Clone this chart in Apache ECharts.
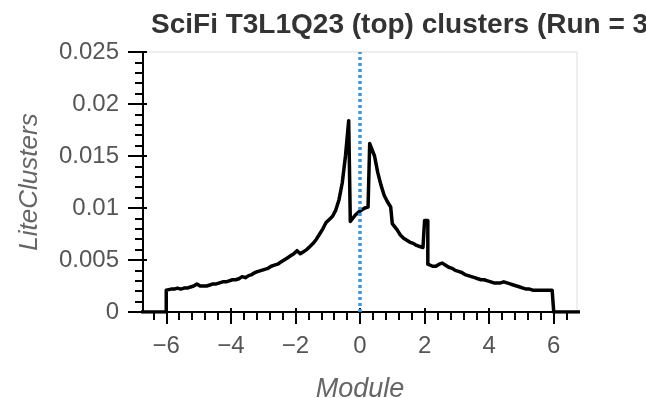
<!DOCTYPE html>
<html>
<head>
<meta charset="utf-8">
<script src="https://cdn.jsdelivr.net/npm/echarts@6/dist/echarts.min.js"></script>
<style>
html,body{margin:0;padding:0;background:#fff;}
#chart{width:646px;height:398px;}
</style>
</head>
<body>
<div id="chart"></div>
<script>
const titleText = 'SciFi T3L1Q23 (top) clusters (Run = 3';
const xName = 'Module';
const yName = 'LiteClusters';
const binStart = -6.0;
const binWidth = 0.1;
// bins from -6.0 to -0.1 (lower edges)
const countsNeg = [
  0.0021, 0.0022, 0.0022, 0.0023, 0.0022, 0.0023, 0.0023, 0.0024, 0.0025, 0.0027,
  0.0025, 0.0025, 0.0025, 0.0026, 0.0027, 0.0027, 0.0028, 0.0029, 0.0029, 0.0030,
  0.0031, 0.0031, 0.0032, 0.0034, 0.0033, 0.0035, 0.0036, 0.0038, 0.0039, 0.0040,
  0.0041, 0.0042, 0.0044, 0.0045, 0.0046, 0.0048, 0.0050, 0.0052, 0.0054, 0.0056,
  0.0059, 0.0056, 0.0058, 0.0060, 0.0063, 0.0066, 0.0070, 0.0075, 0.0080, 0.0086,
  0.0089, 0.0092, 0.0098, 0.0108, 0.0124, 0.0150, 0.0184, 0.0087, 0.0093, 0.0096
];
// bins from 0.0 to 5.9 (lower edges)
const countsPos = [
  0.0098, 0.0100, 0.0101, 0.0162, 0.0150, 0.0134, 0.0122, 0.0112, 0.0106, 0.0101,
  0.0085, 0.0079, 0.0074, 0.0071, 0.0069, 0.0067, 0.0066, 0.0064, 0.0063, 0.0062,
  0.0088, 0.0046, 0.0044, 0.0044, 0.0046, 0.0047, 0.0045, 0.0043, 0.0042, 0.0040,
  0.0039, 0.0038, 0.0036, 0.0035, 0.0034, 0.0033, 0.0032, 0.0031, 0.0031, 0.0030,
  0.0029, 0.0028, 0.0028, 0.0028, 0.0029, 0.0028, 0.0027, 0.0026, 0.0025, 0.0024,
  0.0023, 0.0022, 0.0022, 0.0021, 0.0021, 0.0021, 0.0021, 0.0021, 0.0021, 0.0021
];
// bin edges where the histogram jumps sharply (drawn as vertical steps)
const jumpEdges = [-6.0, -0.3, 0.3, 1.0, 2.0, 2.1, 6.0];
const xMajorTicks = [-6, -4, -2, 0, 2, 4, 6];
const xMinorTicks = [-6.4, -5.6, -5.2, -4.8, -4.4, -3.6, -3.2, -2.8, -2.4, -1.6, -1.2, -0.8, -0.4,
  0.4, 0.8, 1.2, 1.6, 2.4, 2.8, 3.2, 3.6, 4.4, 4.8, 5.2, 5.6, 6.4];
const xMin = -6.72, xMax = 6.72;
const yMin = 0, yMax = 0.025, yStep = 0.005;
const markX = 0;

const counts = countsNeg.concat(countsPos);
const r2 = v => Math.round(v * 100) / 100;
const isJump = e => jumpEdges.some(j => Math.abs(j - e) < 1e-6);
const pts = [[-7, 0]];
let prev = 0;
for (let i = 0; i <= counts.length; i++) {
  const edge = r2(binStart + i * binWidth);
  const v = i < counts.length ? counts[i] : 0;
  if (isJump(edge)) { pts.push([edge, prev]); pts.push([edge, v]); }
  if (i < counts.length) pts.push([r2(edge + binWidth / 2), v]);
  prev = v;
}
pts.push([7, 0]);

const labelFont = 'Liberation Sans, Arial, sans-serif';
const chart = echarts.init(document.getElementById('chart'), null, {renderer: 'canvas'});
const baseX = {
  type: 'value', min: xMin, max: xMax, gridIndex: 0, position: 'bottom',
  splitLine: {show: false}
};
chart.setOption({
  animation: false,
  backgroundColor: '#fff',
  title: {
    text: titleText, left: 146, top: 6,
    textStyle: {fontFamily: labelFont, fontWeight: 'bold', fontSize: 28, color: '#333'}
  },
  grid: {left: 143, right: 69, top: 52, bottom: 86, show: true, borderColor: '#dedede', borderWidth: 1,
    containLabel: false, outerBoundsMode: 'none'},
  xAxis: [
    Object.assign({}, baseX, {
      name: xName, nameLocation: 'middle', nameGap: 64,
      nameTextStyle: {fontFamily: labelFont, fontStyle: 'italic', fontSize: 27, color: '#666'},
      axisLine: {show: true, onZero: false, lineStyle: {color: '#000', width: 2}},
      axisTick: {show: true, inside: false, length: 12, lineStyle: {color: '#000', width: 2}, customValues: xMajorTicks},
      axisLabel: {show: true, customValues: xMajorTicks, margin: 22, fontFamily: labelFont, fontSize: 24, color: '#555',
        formatter: v => (v < 0 ? '\u2212' + Math.abs(v) : String(v))}
    }),
    Object.assign({}, baseX, {
      axisLine: {show: false, onZero: false},
      axisTick: {show: true, inside: false, length: 8, lineStyle: {color: '#000', width: 2}, customValues: xMinorTicks},
      axisLabel: {show: false}
    }),
    Object.assign({}, baseX, {
      axisLine: {show: false, onZero: false},
      axisTick: {show: true, inside: true, length: 4, lineStyle: {color: '#000', width: 2}, customValues: xMajorTicks},
      axisLabel: {show: false}
    })
  ],
  yAxis: [
    {
      type: 'value', min: yMin, max: yMax, interval: yStep, position: 'left',
      name: yName, nameLocation: 'middle', nameGap: 100,
      nameTextStyle: {fontFamily: labelFont, fontStyle: 'italic', fontSize: 26, color: '#666'},
      axisLine: {show: true, onZero: false, lineStyle: {color: '#000', width: 2}},
      axisTick: {show: true, inside: false, length: 15, lineStyle: {color: '#000', width: 2}},
      minorTick: {show: true, splitNumber: 5, length: 8, lineStyle: {color: '#000', width: 2}},
      axisLabel: {margin: 24, fontFamily: labelFont, fontSize: 24, color: '#555'},
      splitLine: {show: false}
    },
    {
      type: 'value', min: yMin, max: yMax, interval: yStep, position: 'left',
      axisLine: {show: false, onZero: false},
      axisTick: {show: true, inside: true, length: 4, lineStyle: {color: '#000', width: 2}},
      axisLabel: {show: false},
      splitLine: {show: false}
    }
  ],
  series: [{
    type: 'line', xAxisIndex: 0, yAxisIndex: 0,
    data: pts, showSymbol: false, symbol: 'none', clip: true,
    lineStyle: {color: '#000', width: 3.5, join: 'round'},
    markLine: {
      silent: true, symbol: 'none', label: {show: false},
      lineStyle: {color: '#3796e6', width: 3.5, type: [3, 3]},
      data: [{xAxis: markX}]
    }
  }]
});
</script>
</body>
</html>
